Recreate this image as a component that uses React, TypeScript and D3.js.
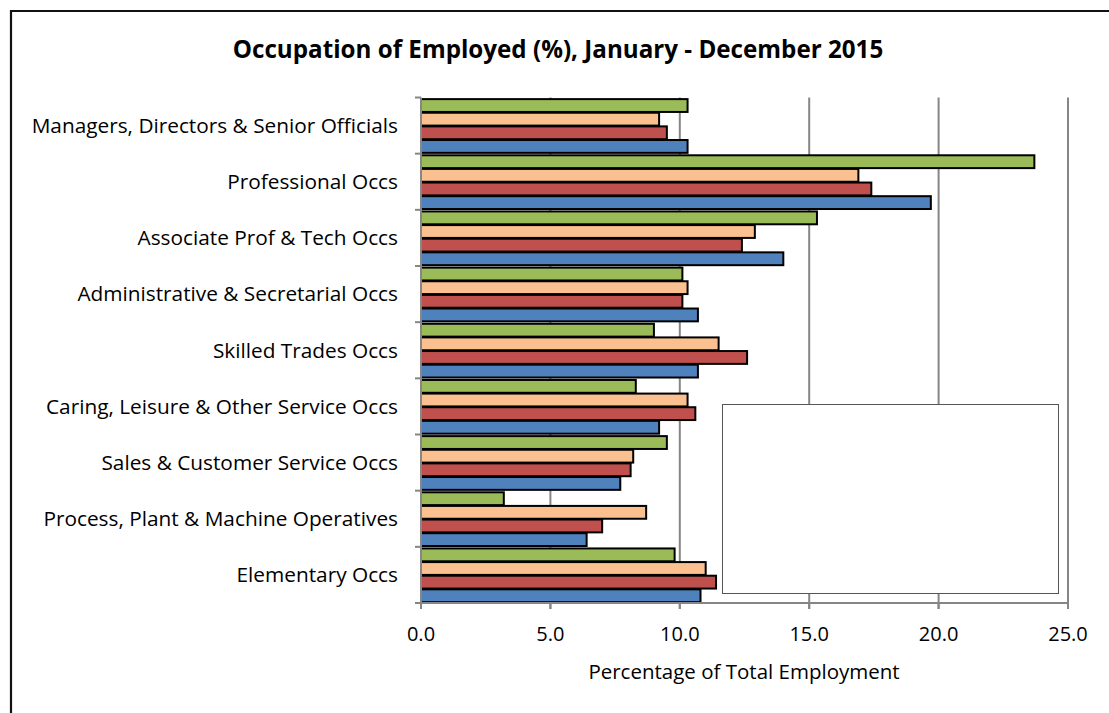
import { useMemo } from "react";
import { scaleBand, scaleLinear } from "d3";

const CATEGORIES = [
  "Managers, Directors & Senior Officials",
  "Professional Occs",
  "Associate Prof & Tech Occs",
  "Administrative & Secretarial Occs",
  "Skilled Trades Occs",
  "Caring, Leisure & Other Service Occs",
  "Sales & Customer Service Occs",
  "Process, Plant & Machine Operatives",
  "Elementary Occs",
];

// series listed bottom-to-top within each group (Excel order)
const SERIES_BLUE = [10.3, 19.7, 14.0, 10.7, 10.7, 9.2, 7.7, 6.4, 10.8];
const SERIES_RED = [9.5, 17.4, 12.4, 10.1, 12.6, 10.6, 8.1, 7.0, 11.4];
const SERIES_ORANGE = [9.2, 16.9, 12.9, 10.3, 11.5, 10.3, 8.2, 8.7, 11.0];
const SERIES_GREEN = [10.3, 23.7, 15.3, 10.1, 9.0, 8.3, 9.5, 3.2, 9.8];

const SERIES = [
  { key: "green", values: SERIES_GREEN, color: "#9BBB59" },
  { key: "orange", values: SERIES_ORANGE, color: "#FAC090" },
  { key: "red", values: SERIES_RED, color: "#C0504D" },
  { key: "blue", values: SERIES_BLUE, color: "#4F81BD" },
];

const X_TICKS = [0, 5, 10, 15, 20, 25];

const FONT = "'Open Sans', 'Noto Sans', sans-serif";

export default function App() {
  const width = 1109;
  const height = 713;
  const left = 421;
  const right = 1068;
  const top = 97.5;
  const bottom = 603;

  const x = useMemo(() => scaleLinear().domain([0, 25]).range([left, right]), []);
  const y = useMemo(
    () => scaleBand<string>().domain(CATEGORIES).range([top, bottom]).paddingInner(0).paddingOuter(0),
    []
  );
  const inner = useMemo(
    () =>
      scaleBand<string>()
        .domain(SERIES.map((s) => s.key))
        .range([0, y.bandwidth()])
        .paddingOuter(0.06)
        .paddingInner(0),
    [y]
  );

  return (
    <svg
      width={width}
      height={height}
      style={{ position: "absolute", left: 0, top: 0, background: "#fff" }}
      fontFamily={FONT}
    >
      <rect x={0} y={0} width={width} height={height} fill="#fff" />
      {/* outer chart frame */}
      <path d={`M11,${height} L11,11 L${width},11`} fill="none" stroke="#111" strokeWidth={2.2} />

      <text x={558} y={58} textAnchor="middle" fontSize={24.2} fontWeight="bold" fill="#000">
        Occupation of Employed (%), January - December 2015
      </text>

      {/* gridlines */}
      {X_TICKS.filter((t) => t > 0).map((t) => (
        <line key={t} x1={x(t)} x2={x(t)} y1={top} y2={bottom + 6} stroke="#868686" strokeWidth={2} />
      ))}

      {/* bars */}
      {CATEGORIES.map((cat, i) => (
        <g key={cat} transform={`translate(0,${y(cat)})`}>
          {SERIES.map((s) => (
            <rect
              key={s.key}
              x={x(0)}
              y={(inner(s.key) ?? 0) + 0.8}
              width={x(s.values[i]) - x(0)}
              height={inner.bandwidth() - 0.8}
              fill={s.color}
              stroke="#000"
              strokeWidth={2}
            />
          ))}
        </g>
      ))}

      {/* y axis */}
      <line x1={left} x2={left} y1={top} y2={bottom} stroke="#868686" strokeWidth={2} />
      {[...CATEGORIES.map((c) => y(c) ?? 0), bottom].map((v, i) => (
        <line key={i} x1={left - 6} x2={left} y1={v} y2={v} stroke="#868686" strokeWidth={2} />
      ))}
      {CATEGORIES.map((cat) => (
        <text
          key={cat}
          x={398}
          y={(y(cat) ?? 0) + y.bandwidth() / 2}
          dy="0.35em"
          textAnchor="end"
          fontSize={20.8}
          fill="#000"
        >
          {cat}
        </text>
      ))}

      {/* x axis */}
      <line x1={left - 6} x2={right} y1={bottom} y2={bottom} stroke="#868686" strokeWidth={2} />
      {X_TICKS.map((t) => (
        <g key={t}>
          <line x1={x(t)} x2={x(t)} y1={bottom} y2={bottom + 6} stroke="#868686" strokeWidth={2} />
          <text x={x(t)} y={641} textAnchor="middle" fontSize={20} fill="#000">
            {t.toFixed(1)}
          </text>
        </g>
      ))}
      <text x={744} y={679} textAnchor="middle" fontSize={20.5} fill="#000">
        Percentage of Total Employment
      </text>

      {/* empty legend box */}
      <rect x={722.5} y={404.5} width={336} height={189} fill="#fff" stroke="#555" strokeWidth={1} />
    </svg>
  );
}
